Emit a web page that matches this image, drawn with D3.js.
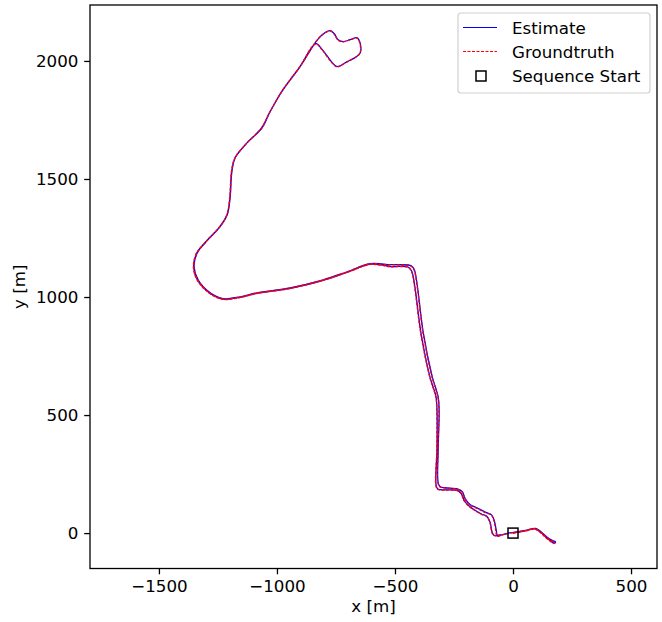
<!DOCTYPE html>
<html>
<head>
<meta charset="utf-8">
<script src="https://cdn.jsdelivr.net/npm/d3@7"></script>
<style>
  body { margin: 0; background: #fff; }
  text { font-family: "DejaVu Sans", sans-serif; }
</style>
</head>
<body>
<div id="container"></div>
<script>
// groundtruth trajectory [m]: start -> east turn -> north (lane A) -> top loop -> back south (lane B)
const gtX = [
  0, 51, 93, 114, 140, 160, 174, 178, 166, 145, 116, 94, 51, 0, -34, -68,
  -72, -80, -92, -115, -160, -182, -203, -216, -237, -288, -309, -318, -318, -314, -318, -343, -381, -407, -419, -432,
  -479, -521, -606, -703, -805, -945, -1085, -1157, -1229, -1284, -1335, -1352, -1339, -1305, -1242, -1212, -1199, -1195,
  -1191, -1178, -1127, -1064, -1030, -975, -903, -839,
  -809, -775, -758, -742, -720, -691, -661, -648, -648, -665, -703, -746, -767, -809, -836,
  -905, -977, -1031, -1066, -1128, -1179, -1192, -1196, -1200, -1213, -1244, -1307, -1341, -1354, -1337, -1285, -1229,
  -1157, -1085, -945, -805, -703, -606, -560, -521, -445, -430, -417, -391, -353, -327, -323, -323, -327, -320, -290,
  -237, -220, -207, -186, -135, -112, -98, -90, -82, -55, -25
];
const gtY = [
  0, 8, 17, 4, -21, -36, -44, -38, -33, -20, 6, 19, 10, 2, -4, -13,
  5, 50, 76, 86, 108, 119, 144, 174, 186, 191, 195, 212, 352, 521, 576, 661, 847, 1051, 1114, 1131,
  1136, 1136, 1140, 1106, 1072, 1038, 1017, 1000, 992, 1017, 1072, 1127, 1186, 1229, 1297, 1347, 1424, 1496,
  1538, 1589, 1653, 1716, 1784, 1877, 1975, 2076,
  2110, 2127, 2114, 2089, 2081, 2089, 2097, 2072, 2034, 2017, 1996, 1975, 1992, 2047, 2072,
  1973, 1875, 1782, 1715, 1652, 1588, 1537, 1495, 1423, 1346, 1296, 1228, 1185, 1126, 1070, 1015, 990,
  998, 1015, 1036, 1070, 1104, 1138, 1135, 1128, 1126, 1108, 1044, 847, 661, 576, 521, 352, 203, 186, 182,
  180, 166, 136, 113, 80, 70, 45, 5, -10, -9, -3
];

// estimated trajectory [m]
const estX = [
  0, 50, 92, 115, 142, 161, 176, 180, 168, 146, 117, 95, 52, 1, -33, -66,
  -70, -79, -91, -113, -158, -181, -202, -215, -236, -287, -308, -317, -317, -313, -317, -342, -380, -406, -418, -431,
  -478, -520, -605, -702, -804, -944, -1084, -1156, -1228, -1283, -1334, -1351, -1338, -1304, -1241, -1211, -1198, -1194,
  -1190, -1177, -1126, -1063, -1029, -974, -902, -838,
  -808, -774, -757, -741, -719, -690, -660, -647, -647, -664, -702, -745, -766, -808, -835,
  -904, -976, -1030, -1065, -1127, -1178, -1191, -1195, -1199, -1212, -1243, -1306, -1340, -1353, -1336, -1284, -1228,
  -1156, -1084, -944, -804, -702, -605, -559, -520, -444, -429, -416, -390, -352, -326, -322, -322, -326, -319, -289,
  -236, -219, -206, -185, -134, -111, -97, -89, -81, -54, -24
];
const estY = [
  0, 9, 18, 5, -20, -35, -43, -37, -32, -19, 7, 20, 11, 3, -3, -12,
  6, 51, 77, 87, 109, 120, 145, 175, 187, 192, 196, 213, 353, 522, 577, 662, 848, 1052, 1115, 1132,
  1137, 1137, 1141, 1107, 1073, 1039, 1018, 1001, 993, 1018, 1073, 1128, 1187, 1230, 1298, 1348, 1425, 1497,
  1539, 1590, 1654, 1717, 1785, 1878, 1976, 2077,
  2111, 2128, 2115, 2090, 2082, 2090, 2098, 2073, 2035, 2018, 1997, 1976, 1993, 2048, 2073,
  1974, 1876, 1783, 1716, 1653, 1589, 1538, 1496, 1424, 1347, 1297, 1229, 1186, 1127, 1071, 1016, 991,
  999, 1016, 1037, 1071, 1105, 1139, 1136, 1129, 1127, 1109, 1045, 848, 662, 577, 522, 353, 204, 187, 183,
  181, 167, 137, 114, 81, 71, 46, 6, -9, -8, -2
];

const startPoint = [0, 0];
const xTicks = [-1500, -1000, -500, 0, 500];
const yTicks = [0, 500, 1000, 1500, 2000];
const legendLabels = ["Estimate", "Groundtruth", "Sequence Start"];

const w = 662;
const h = 622;
const padL = 90, padR = 657, padT = 5, padB = 568.5;
const fontSize = 16.7;

const svg = d3.select("#container")
  .append("svg")
  .attr("width", w)
  .attr("height", h);

const xScale = d3.scaleLinear().domain([-1792, 610]).range([padL, padR]);
const yScale = d3.scaleLinear().domain([-150, 2237]).range([padB, padT]);

const fmt = d3.format("d");

const xAxis = d3.axisBottom(xScale).tickValues(xTicks).tickFormat(fmt).tickSize(5.8).tickPadding(5.5);
svg.append("g")
  .attr("transform", "translate(0," + padB + ")")
  .call(xAxis)
  .call(g => g.select(".domain").remove())
  .call(g => g.selectAll("line").attr("stroke", "#000").attr("stroke-width", 1.3))
  .call(g => g.selectAll("text").attr("fill", "#000").style("font-size", fontSize + "px").style("font-family", "DejaVu Sans"));

const yAxis = d3.axisLeft(yScale).tickValues(yTicks).tickFormat(fmt).tickSize(5.8).tickPadding(5.8);
svg.append("g")
  .attr("transform", "translate(" + padL + ",0)")
  .call(yAxis)
  .call(g => g.select(".domain").remove())
  .call(g => g.selectAll("line").attr("stroke", "#000").attr("stroke-width", 1.3))
  .call(g => g.selectAll("text").attr("fill", "#000").style("font-size", fontSize + "px").style("font-family", "DejaVu Sans"));

// axis labels
svg.append("text")
  .attr("x", (padL + padR) / 2)
  .attr("y", 612)
  .attr("text-anchor", "middle")
  .style("font-size", fontSize + "px")
  .text("x [m]");
svg.append("text")
  .attr("transform", "translate(25," + (padT + padB) / 2 + ") rotate(-90)")
  .attr("text-anchor", "middle")
  .style("font-size", fontSize + "px")
  .text("y [m]");

const line = d3.line()
  .x(d => xScale(d[0]))
  .y(d => yScale(d[1]))
  .curve(d3.curveCatmullRom.alpha(0.5));

const estData = estX.map((x, i) => [x, estY[i]]);
const gtData = gtX.map((x, i) => [x, gtY[i]]);

svg.append("path")
  .datum(estData)
  .attr("d", line)
  .attr("fill", "none")
  .attr("stroke", "#0000ff")
  .attr("stroke-width", 1.3);

svg.append("path")
  .datum(gtData)
  .attr("d", line)
  .attr("fill", "none")
  .attr("stroke", "#ff0000")
  .attr("stroke-width", 1.3)
  .attr("stroke-dasharray", "3,1.5");

svg.append("rect")
  .attr("x", xScale(startPoint[0]) - 5)
  .attr("y", yScale(startPoint[1]) - 5)
  .attr("width", 10)
  .attr("height", 10)
  .attr("fill", "none")
  .attr("stroke", "#000")
  .attr("stroke-width", 1.5);

// frame
svg.append("rect")
  .attr("x", padL)
  .attr("y", padT)
  .attr("width", padR - padL)
  .attr("height", padB - padT)
  .attr("fill", "none")
  .attr("stroke", "#000")
  .attr("stroke-width", 1.3);

// legend
const legend = svg.append("g");
legend.append("rect")
  .attr("x", 458)
  .attr("y", 13)
  .attr("width", 192)
  .attr("height", 80)
  .attr("rx", 3)
  .attr("fill", "#fff")
  .attr("fill-opacity", 0.8)
  .attr("stroke", "#d0d0d0")
  .attr("stroke-width", 1.2);

const rowY = [27.5, 51.5, 76];
legend.append("line")
  .attr("x1", 463).attr("x2", 497)
  .attr("y1", rowY[0]).attr("y2", rowY[0])
  .attr("stroke", "#0000ff")
  .attr("stroke-width", 1);
legend.append("line")
  .attr("x1", 463).attr("x2", 497)
  .attr("y1", rowY[1]).attr("y2", rowY[1])
  .attr("stroke", "#ff0000")
  .attr("stroke-width", 1)
  .attr("stroke-dasharray", "3,1.5");
legend.append("rect")
  .attr("x", 476).attr("y", rowY[2] - 5)
  .attr("width", 10).attr("height", 10)
  .attr("fill", "none")
  .attr("stroke", "#000")
  .attr("stroke-width", 1.5);

legend.selectAll("text.lab")
  .data(legendLabels)
  .enter()
  .append("text")
  .attr("class", "lab")
  .attr("x", 512)
  .attr("y", (d, i) => rowY[i])
  .attr("dy", "0.36em")
  .style("font-size", fontSize + "px")
  .text(d => d);
</script>
</body>
</html>
